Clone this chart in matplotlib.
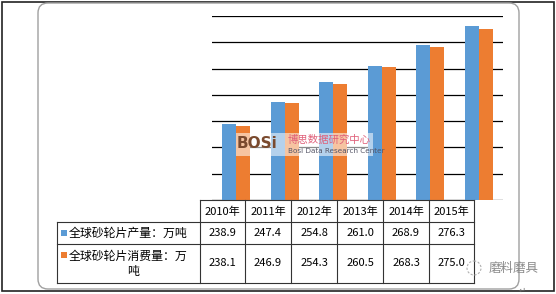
import numpy as np
import matplotlib.pyplot as plt
from matplotlib.patches import FancyBboxPatch, Rectangle, Circle

plt.rcParams['font.family'] = ['Noto Sans CJK SC', 'DejaVu Sans']

# data
years = ["2010年", "2011年", "2012年", "2013年", "2014年", "2015年"]
production = [238.9, 247.4, 254.8, 261.0, 268.9, 276.3]
consumption = [238.1, 246.9, 254.3, 260.5, 268.3, 275.0]
series_names = ["全球砂轮片产量：万吨", "全球砂轮片消费量：万\n吨"]
colors = ["#5B9BD5", "#ED7D31"]

W, H = 556, 294
fig = plt.figure(figsize=(W / 100, H / 100), dpi=100)

# chart area
ax = fig.add_axes([212 / W, 1 - 200 / H, (503 - 212) / W, (200 - 16) / H])
ax.set_xlim(-0.5, len(years) - 0.5)
ax.set_ylim(210, 280)
for v in range(210, 281, 10):
    ax.axhline(v, color="black", lw=0.9, zorder=1)
x = np.arange(len(years))
bw = 0.29
ax.bar(x - bw / 2, production, width=bw, color=colors[0], zorder=2)
ax.bar(x + bw / 2, consumption, width=bw, color=colors[1], zorder=2)
ax.axis("off")

# overlay axes in pixel coordinates for frame, watermark and data table
ov = fig.add_axes([0, 0, 1, 1])
ov.patch.set_alpha(0)
ov.set_xlim(0, W)
ov.set_ylim(H, 0)
ov.axis("off")

# outer black frame and rounded gray box
ov.add_patch(Rectangle((1.5, 1.5), W - 3.5, 289, fill=False, ec="#222222", lw=1.2))
ov.add_patch(FancyBboxPatch((48, 13), 461, 266, boxstyle="round,pad=10",
                            fill=False, ec="#a0a0a0", lw=1.0))

# watermark in the middle of the chart
ov.add_patch(Rectangle((236, 133), 137, 23, fc="white", ec="none", alpha=0.55, zorder=3))
ov.text(237, 144, "BOSi", fontsize=11, fontweight="bold", color="#7a4a2e",
        ha="left", va="center", family="DejaVu Sans", zorder=4)
ov.text(288, 140, "博思数据研究中心", fontsize=7.5, color="#e0607a",
        ha="left", va="center", zorder=4)
ov.text(288, 151, "Bosi Data Research Center", fontsize=5.2, color="#555566",
        ha="left", va="center", family="DejaVu Sans", zorder=4)

# data table
col_edges = [200, 245, 291, 337, 383, 429, 474]
row_edges = [200, 222, 244, 283]
left_edge = 57
lc = "#333333"
ov.plot([col_edges[0], col_edges[-1]], [row_edges[0], row_edges[0]], color=lc, lw=0.8)
for yy in row_edges[1:]:
    ov.plot([left_edge, col_edges[-1]], [yy, yy], color=lc, lw=0.8)
for xx in col_edges:
    ov.plot([xx, xx], [row_edges[0], row_edges[-1]], color=lc, lw=0.8)
ov.plot([left_edge, left_edge], [row_edges[1], row_edges[-1]], color=lc, lw=0.8)

centers = [(col_edges[i] + col_edges[i + 1]) / 2 for i in range(len(years))]
for cx, yr in zip(centers, years):
    ov.text(cx, 211.5, yr, fontsize=8, ha="center", va="center")
for cx, a, b in zip(centers, production, consumption):
    ov.text(cx, 233.5, f"{a:.1f}", fontsize=8, ha="center", va="center")
    ov.text(cx, 263.5, f"{b:.1f}", fontsize=8, ha="center", va="center")

# row headers with legend keys
ov.add_patch(Rectangle((61, 230), 6, 6, fc=colors[0], ec="none"))
ov.text(69, 233.5, series_names[0], fontsize=8.6, ha="left", va="center")
ov.add_patch(Rectangle((61, 252), 6, 6, fc=colors[1], ec="none"))
ov.text(69, 256, series_names[1].split("\n")[0], fontsize=8.6, ha="left", va="center")
ov.text(133, 272, series_names[1].split("\n")[1], fontsize=8.6, ha="center", va="center")

# wechat mark bottom right
ov.add_patch(Circle((474, 268), 7, fill=False, ec="#b0b0b0", lw=0.8, ls=(0, (2, 1.5)), zorder=5))
ov.text(514, 268, "磨料磨具", fontsize=9, color="#8a8a8a", ha="center", va="center", zorder=5)
ov.text(522, 290, "↵", fontsize=6, color="#666666", ha="center", va="center",
        family="DejaVu Sans")

fig.savefig("out.png", dpi=100)
